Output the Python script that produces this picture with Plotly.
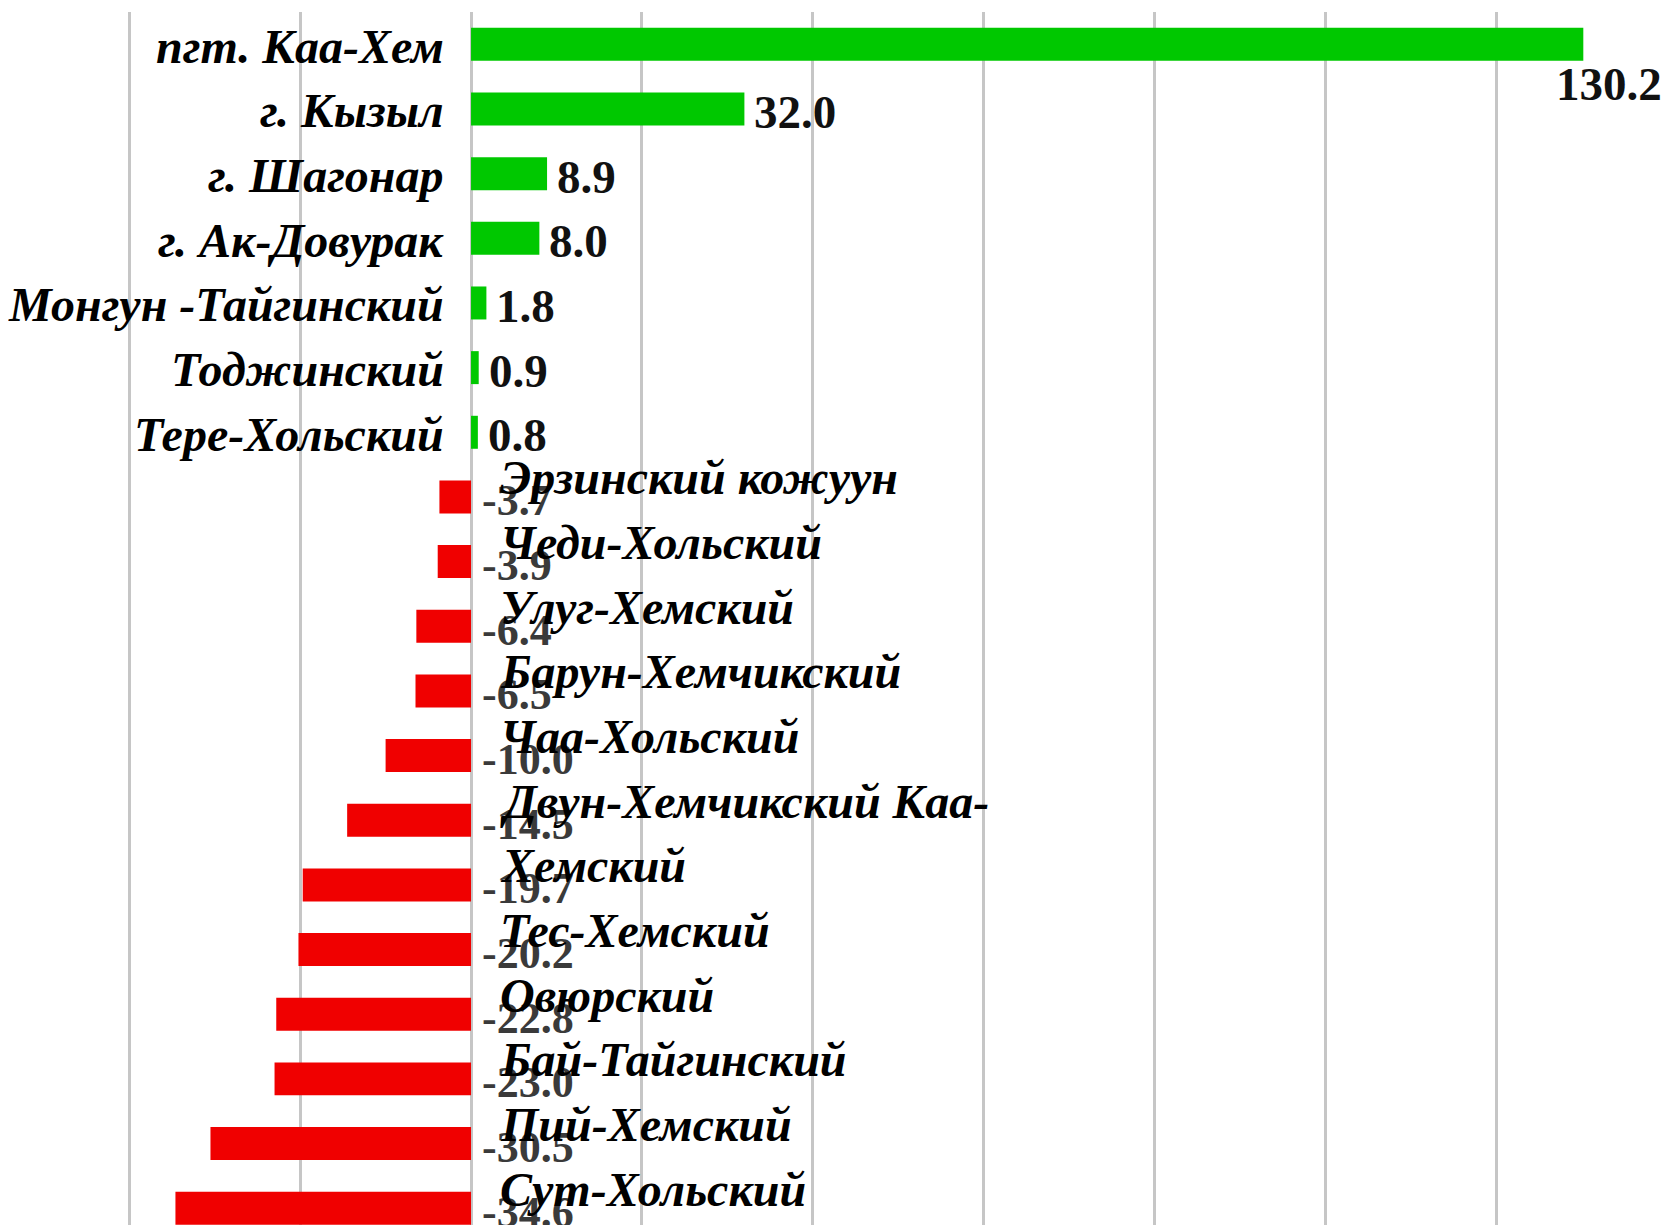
import plotly.graph_objects as go

# ---- data ----
districts = [
    "пгт. Каа-Хем", "г. Кызыл", "г. Шагонар", "г. Ак-Довурак",
    "Монгун -Тайгинский", "Тоджинский", "Тере-Хольский",
    "Эрзинский кожуун", "Чеди-Хольский", "Улуг-Хемский", "Барун-Хемчикский",
    "Чаа-Хольский", "Двун-Хемчикский", "Каа-Хемский", "Тес-Хемский",
    "Овюрский", "Бай-Тайгинский", "Пий-Хемский", "Сут-Хольский",
]
values = [130.2, 32.0, 8.9, 8.0, 1.8, 0.9, 0.8,
          -3.7, -3.9, -6.4, -6.5, -10.0, -14.5, -19.7, -20.2,
          -22.8, -23.0, -30.5, -34.6]
# labels as they appear on the picture (one name wrapped onto the next row)
display_labels = [
    "пгт. Каа-Хем", "г. Кызыл", "г. Шагонар", "г. Ак-Довурак",
    "Монгун -Тайгинский", "Тоджинский", "Тере-Хольский",
    "Эрзинский кожуун", "Чеди-Хольский", "Улуг-Хемский", "Барун-Хемчикский",
    "Чаа-Хольский", "Двун-Хемчикский Каа-", "Хемский", "Тес-Хемский",
    "Овюрский", "Бай-Тайгинский", "Пий-Хемский", "Сут-Хольский",
]
x_range = [-54.2, 140.23]

GREEN = "#00C800"
RED = "#F00000"
FONT = "Liberation Serif, Times New Roman, serif"

colors = [GREEN if v >= 0 else RED for v in values]

fig = go.Figure()
fig.add_trace(go.Bar(
    x=values, y=districts, orientation="h",
    marker=dict(color=colors, line=dict(width=0)),
    width=0.51, hoverinfo="x+y",
))

annotations = []
# value labels
for d, v in zip(districts, values):
    if v >= 0:
        if v > x_range[1] - 20:
            annotations.append(dict(x=v, y=d, xref="x", yref="y", text=f"{v:.1f}",
                                    showarrow=False, xanchor="left", yanchor="middle",
                                    xshift=-29, yshift=-40,
                                    font=dict(family=FONT, size=47, color="#111111", weight="bold")))
        else:
            annotations.append(dict(x=v, y=d, xref="x", yref="y", text=f"{v:.1f}",
                                    showarrow=False, xanchor="left", yanchor="middle",
                                    xshift=8, yshift=-3,
                                    font=dict(family=FONT, size=47, color="#111111", weight="bold")))
    else:
        annotations.append(dict(x=0, y=d, xref="x", yref="y", text=f"{v:.1f}",
                                showarrow=False, xanchor="left", yanchor="middle",
                                xshift=9, yshift=-4,
                                font=dict(family=FONT, size=44, color="#3a3a3a", weight="bold")))
# category labels
for d, v, lab in zip(districts, values, display_labels):
    if v >= 0:
        annotations.append(dict(x=0, y=d, xref="x", yref="y", text=lab,
                                showarrow=False, xanchor="right", yanchor="middle",
                                xshift=-25, yshift=-2,
                                font=dict(family=FONT, size=48, color="#000000",
                                          weight="bold", style="italic")))
    else:
        annotations.append(dict(x=0, y=d, xref="x", yref="y", text=lab,
                                showarrow=False, xanchor="left", yanchor="middle",
                                xshift=27, yshift=19,
                                font=dict(family=FONT, size=48, color="#000000",
                                          weight="bold", style="italic")))

fig.update_layout(
    width=1661, height=1217,
    margin=dict(l=0, r=0, t=4, b=0),
    paper_bgcolor="white", plot_bgcolor="white",
    showlegend=False,
    annotations=annotations,
    xaxis=dict(range=x_range, tick0=0, dtick=20, showgrid=True,
               gridcolor="#c6c6c6", gridwidth=3,
               zeroline=True, zerolinecolor="#c6c6c6", zerolinewidth=3,
               showticklabels=False, ticks="", showline=False, fixedrange=True),
    yaxis=dict(categoryorder="array", categoryarray=districts,
               range=[18.26, -0.5], showgrid=False, zeroline=False,
               showticklabels=False, ticks="", showline=False, fixedrange=True),
)

fig.write_html("out.html")
